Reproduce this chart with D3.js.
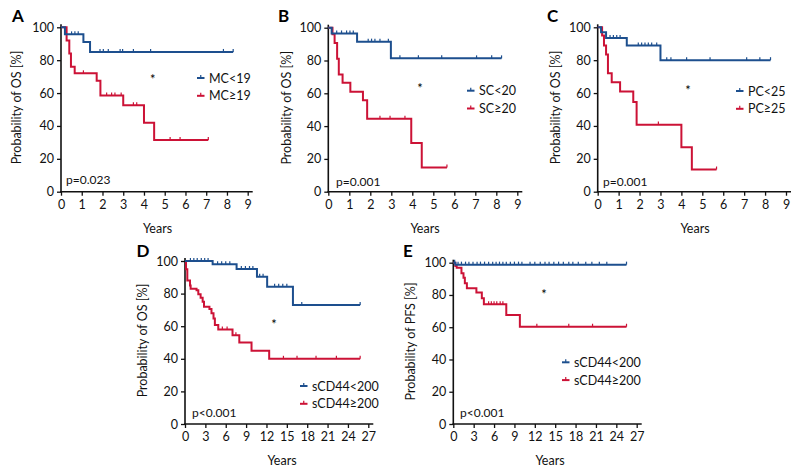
<!DOCTYPE html>
<html><head><meta charset="utf-8">
<script src="https://cdn.jsdelivr.net/npm/d3@7"></script>
<style>
body{margin:0;background:#fff;}
svg{font-family:Lato,"Open Sans",sans-serif;}
</style></head>
<body><svg id="c" width="800" height="474"></svg>
<script>
// ---------- DATA ----------
const yTicks = [0, 20, 40, 60, 80, 100];
const xTicksShort = [0,1,2,3,4,5,6,7,8,9];
const xTicksLong = [0,3,6,9,12,15,18,21,24,27];
const panelLetters = ["A","B","C","D","E"];
const yTitles = ["Probability of OS [%]","Probability of OS [%]","Probability of OS [%]","Probability of OS [%]","Probability of PFS [%]"];
const pValues = ["p=0.023","p=0.001","p=0.001","p<0.001","p<0.001"];
const legendLow = ["MC<19","SC<20","PC<25","sCD44<200","sCD44<200"];
const legendHigh = ["MC\u226519","SC\u226520","PC\u226525","sCD44\u2265200","sCD44\u2265200"];

// Panel A
const aLowT = [0.19, 1.08, 1.4];           const aLowS = [95.7, 91, 85];   const aLowEnd = 8.3;
const aLowCens = [0.51, 0.67, 0.83, 1.88, 2.04, 2.28, 2.85, 2.97, 3.49, 4.32, 7.83, 8.3];
const aHighT = [0.27, 0.4, 0.48, 0.66, 1.72, 1.9, 3.0, 4.0, 4.49]; const aHighS = [92, 84, 76, 72, 67.5, 58.5, 52.6, 42, 31.5]; const aHighEnd = 7.1;
const aHighCens = [1.08, 2.2, 2.44, 2.6, 2.9, 3.49, 3.65, 5.26, 5.74, 7.1];
// Panel B
const bLowT = [0.16, 1.37, 2.98];          const bLowS = [96.5, 91.5, 81.3]; const bLowEnd = 8.25;
const bLowCens = [0.4, 0.63, 0.87, 1.03, 1.19, 1.9, 2.06, 2.22, 2.46, 2.86, 3.41, 4.29, 5.4, 7.06, 7.78, 8.25];
const bHighT = [0.2, 0.3, 0.42, 0.5, 0.68, 1.05, 1.65, 1.85, 3.95, 4.45]; const bHighS = [96, 90.7, 81, 71.5, 66.5, 61, 55.7, 44.5, 29.7, 14.8]; const bHighEnd = 5.65;
const bHighCens = [2.46, 2.94, 3.65, 5.65];
// Panel C
const cLowT = [0.16, 0.4, 1.39, 3.0];      const cLowS = [97, 93.5, 89, 80]; const cLowEnd = 8.26;
const cLowCens = [0.59, 0.75, 0.91, 1.07, 1.94, 2.1, 2.26, 2.42, 2.58, 2.82, 3.3, 3.5, 4.25, 5.37, 7.12, 7.75, 8.26];
const cHighT = [0.21, 0.3, 0.4, 0.49, 0.67, 1.07, 1.7, 1.86, 4.0, 4.5]; const cHighS = [95, 89, 83.5, 72, 66.5, 61, 54.5, 40.8, 27, 13.5]; const cHighEnd = 5.68;
const cHighCens = [2.9, 5.68];
// Panel D
const dLowT = [4.07, 7.6, 10.6, 12.1, 15.9]; const dLowS = [98, 95.1, 90.4, 84.2, 73]; const dLowEnd = 25.8;
const dLowCens = [0.8, 1.3, 1.8, 2.4, 2.9, 3.4, 4.8, 5.4, 6.0, 6.6, 8.3, 8.9, 9.5, 10.0, 11.0, 11.5, 13.2, 13.8, 14.4, 15.0, 17.2, 25.8];
const dHighT = [0.15, 0.34, 0.74, 0.83, 1.7, 1.96, 2.3, 2.6, 2.8, 3.6, 3.9, 4.2, 4.4, 4.9, 7.0, 8.0, 9.8, 12.4];
const dHighS = [95, 88, 85, 83, 82, 79.6, 77.5, 75, 72, 70.6, 67.9, 64.8, 60.7, 58, 54.5, 50, 45, 40]; const dHighEnd = 25.8;
const dHighCens = [5.5, 6.2, 7.5, 14.5, 16.5, 19.3, 22.3, 25.8];
// Panel E
const eLowT = [0.3];                       const eLowS = [98.8]; const eLowEnd = 25.5;
const eLowCens = [0.2, 0.7, 1.2, 1.8, 2.3, 2.9, 3.5, 4.0, 4.6, 5.2, 5.8, 6.3, 6.8, 7.3, 7.8, 8.4, 9.0, 9.6, 10.1, 11.3, 12.0, 12.8, 13.5, 14.1, 14.8, 15.5, 16.2, 17.0, 17.6, 18.4, 19.5, 20.4, 21.5, 22.6, 25.5];
const eHighT = [0.3, 0.5, 1.2, 1.5, 1.7, 2.0, 3.4, 4.2, 4.5, 7.8, 9.8];
const eHighS = [98, 96.9, 93.4, 90.7, 87.2, 84.1, 81.6, 77.9, 74.2, 67.6, 60.3]; const eHighEnd = 25.5;
const eHighCens = [5.2, 5.6, 6.0, 6.4, 6.9, 7.3, 12.3, 17.0, 20.5, 25.5];

// ---------- LAYOUT ----------
const BLUE = "#1d4f8e", RED = "#cc1236";
const svg = d3.select("#c");

const panels = [
  {x0:61, x1:247.7, yTop:27.3, yBot:191.7, max:9, ticks:xTicksShort,
   low:[aLowT,aLowS,aLowEnd,aLowCens], high:[aHighT,aHighS,aHighEnd,aHighCens],
   letter:[12,22], titleX:16, years:[157.5,233], p:[66,184], star:[152.7,84], leg:[197,78]},
  {x0:328.3, x1:517.3, yTop:27.7, yBot:191.7, max:9, ticks:xTicksShort,
   low:[bLowT,bLowS,bLowEnd,bLowCens], high:[bHighT,bHighS,bHighEnd,bHighCens],
   letter:[278,22], titleX:286.5, years:[425,233], p:[336,186], star:[420,93], leg:[467,90.7]},
  {x0:597.7, x1:786, yTop:27.3, yBot:191.7, max:9, ticks:xTicksShort,
   low:[cLowT,cLowS,cLowEnd,cLowCens], high:[cHighT,cHighS,cHighEnd,cHighCens],
   letter:[547,22], titleX:555, years:[695,233], p:[603,186], star:[688,95], leg:[736,91]},
  {x0:185, x1:368.3, yTop:261, yBot:424, max:27, ticks:xTicksLong,
   low:[dLowT,dLowS,dLowEnd,dLowCens], high:[dHighT,dHighS,dHighEnd,dHighCens],
   letter:[136.5,256.5], titleX:142.3, years:[282,465], p:[192,417], star:[274,329], leg:[300,386]},
  {x0:453.3, x1:636.7, yTop:262.7, yBot:424, max:27, ticks:xTicksLong,
   low:[eLowT,eLowS,eLowEnd,eLowCens], high:[eHighT,eHighS,eHighEnd,eHighCens],
   letter:[403,256.5], titleX:410, years:[550,465], p:[460,417], star:[544,299], leg:[562,362.3]}
];

function stepPoints(T, S, end) {
  const pts = [[0,100]];
  T.forEach((t,i)=>pts.push([t,S[i]]));
  pts.push([end, S[S.length-1]]);
  return pts;
}
function survAt(T, S, t) {
  let s = 100;
  T.forEach((ti,i)=>{ if (ti <= t) s = S[i]; });
  return s;
}

panels.forEach((p, i) => {
  const g = svg.append("g");
  const x = d3.scaleLinear().domain([0, p.max]).range([p.x0, p.x1]);
  const y = d3.scaleLinear().domain([0, 100]).range([p.yBot, p.yTop]);

  const ya = g.append("g").attr("transform", `translate(${p.x0},0)`)
    .call(d3.axisLeft(y).tickValues(yTicks).tickSize(4).tickPadding(3).tickSizeOuter(0));
  const xa = g.append("g").attr("transform", `translate(0,${p.yBot})`)
    .call(d3.axisBottom(x).tickValues(p.ticks).tickSize(4).tickPadding(4).tickSizeOuter(0));
  [ya, xa].forEach(a => {
    a.select(".domain").remove();
    a.selectAll(".tick line").attr("stroke", "#111").attr("stroke-width", 1.3);
    a.selectAll(".tick text").attr("font-size", 12.5).attr("fill", "#111")
      .attr("font-family", "Lato, sans-serif");
  });
  g.append("line").attr("x1", p.x0).attr("x2", p.x0).attr("y1", p.yBot + 0.6).attr("y2", p.yTop - 3)
    .attr("stroke", "#111").attr("stroke-width", 1.6);
  g.append("line").attr("x1", p.x0 - 0.8).attr("x2", x(p.max) + 5).attr("y1", p.yBot).attr("y2", p.yBot)
    .attr("stroke", "#111").attr("stroke-width", 1.6);

  g.append("text").attr("transform", `translate(${p.titleX},${(p.yTop + p.yBot) / 2 - 2}) rotate(-90)`)
    .attr("text-anchor", "middle").attr("dominant-baseline", "central")
    .attr("font-size", 12.5).attr("fill", "#111").text(yTitles[i]);
  g.append("text").attr("x", p.years[0]).attr("y", p.years[1]).attr("text-anchor", "middle")
    .attr("font-size", 12.5).attr("fill", "#111").text("Years");
  g.append("text").attr("x", p.letter[0]).attr("y", p.letter[1]).attr("font-size", 17)
    .attr("font-weight", "bold").attr("fill", "#000").text(panelLetters[i]);
  g.append("text").attr("x", p.p[0]).attr("y", p.p[1]).attr("font-size", 12)
    .attr("fill", "#111").text(pValues[i]);
  g.append("text").attr("x", p.star[0]).attr("y", p.star[1]).attr("text-anchor", "middle")
    .attr("font-size", 13).attr("fill", "#000").text("*");

  const line = d3.line().x(d => x(d[0])).y(d => y(d[1])).curve(d3.curveStepAfter);
  [[p.high, RED], [p.low, BLUE]].forEach(([ser, col]) => {
    const [T, S, end, cens] = ser;
    g.append("path").attr("d", line(stepPoints(T, S, end))).attr("fill", "none")
      .attr("stroke", col).attr("stroke-width", 2);
    g.selectAll(null).data(cens).enter().append("line")
      .attr("x1", d => x(d)).attr("x2", d => x(d))
      .attr("y1", d => y(survAt(T, S, d)) - 3).attr("y2", d => y(survAt(T, S, d)))
      .attr("stroke", col).attr("stroke-width", 1.2);
  });

  [[legendLow[i], BLUE], [legendHigh[i], RED]].forEach(([lab, col], k) => {
    const ly = p.leg[1] + k * 17.8;
    g.append("line").attr("x1", p.leg[0]).attr("x2", p.leg[0] + 7.5).attr("y1", ly).attr("y2", ly)
      .attr("stroke", col).attr("stroke-width", 2);
    g.append("line").attr("x1", p.leg[0] + 3.75).attr("x2", p.leg[0] + 3.75).attr("y1", ly - 3).attr("y2", ly)
      .attr("stroke", col).attr("stroke-width", 1.2);
    g.append("text").attr("x", p.leg[0] + 12).attr("y", ly).attr("dominant-baseline", "central")
      .attr("font-size", 12.5).attr("fill", "#111").text(lab);
  });
});
</script></body></html>
